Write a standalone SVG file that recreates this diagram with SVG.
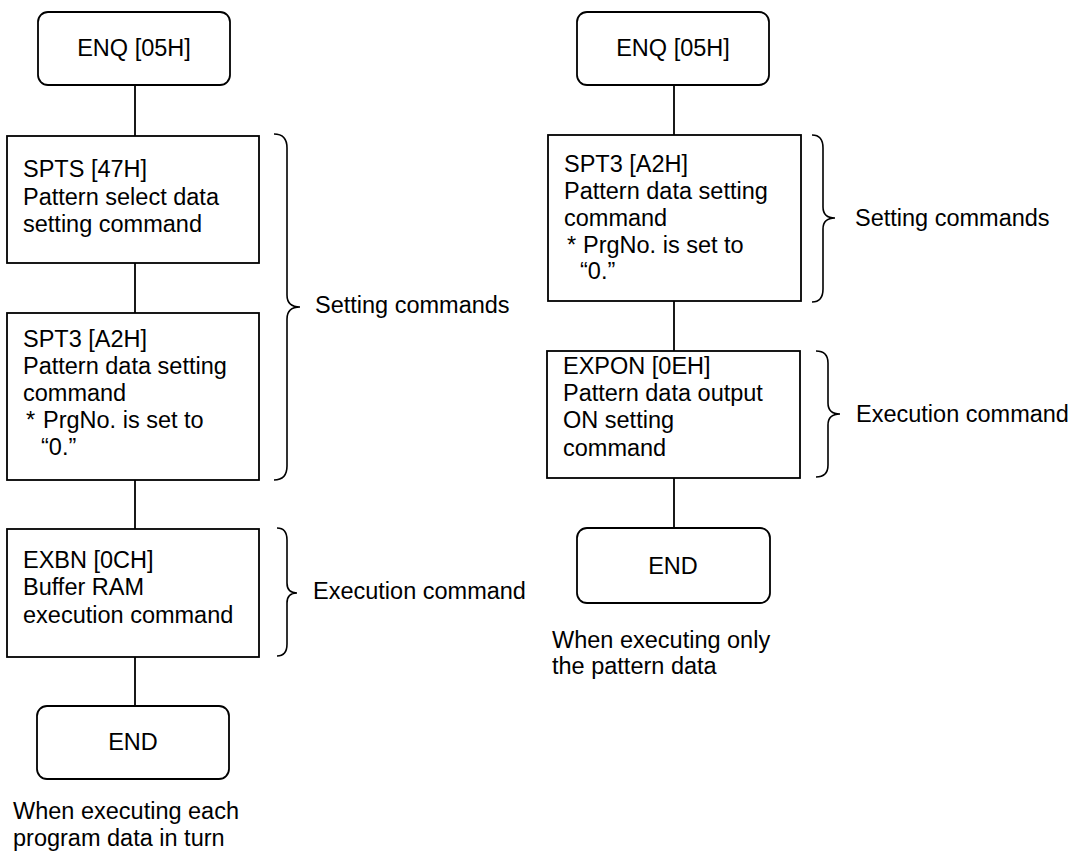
<svg xmlns="http://www.w3.org/2000/svg" width="1082" height="852" viewBox="0 0 1082 852">
<style>
  .box { fill: #fff; stroke: #000; stroke-width: 1.8; }
  .ln { fill: none; stroke: #000; stroke-width: 1.8; }
  .br { fill: none; stroke: #000; stroke-width: 1.6; }
  text { font-family: "Liberation Sans", Arial, sans-serif; font-size: 23.5px; fill: #000; }
  .c { text-anchor: middle; }
</style>
<rect width="1082" height="852" fill="#fff"/>
<g id="connectors">
  <line class="ln" x1="135" y1="85" x2="135" y2="136"/>
  <line class="ln" x1="135" y1="263" x2="135" y2="313"/>
  <line class="ln" x1="135" y1="480" x2="135" y2="529"/>
  <line class="ln" x1="135" y1="657" x2="135" y2="706"/>
  <line class="ln" x1="674" y1="85" x2="674" y2="135"/>
  <line class="ln" x1="674" y1="301" x2="674" y2="351"/>
  <line class="ln" x1="674" y1="478" x2="674" y2="528"/>
</g>
<g id="left-enq">
  <rect class="box" x="38" y="12" width="192" height="73" rx="10"/>
  <text class="c" x="134" y="56">ENQ [05H]</text>
</g>
<g id="left-spts">
  <rect class="box" x="7" y="136" width="252" height="127"/>
  <text x="23" y="177">SPTS [47H]</text>
  <text x="23" y="205">Pattern select data</text>
  <text x="23" y="232">setting command</text>
</g>
<g id="left-spt3">
  <rect class="box" x="7" y="313" width="252" height="167"/>
  <text x="23" y="347">SPT3 [A2H]</text>
  <text x="23" y="374">Pattern data setting</text>
  <text x="23" y="401">command</text>
  <text x="26" y="428">*</text>
  <text x="43" y="428">PrgNo. is set to</text>
  <text x="41" y="455">“0.”</text>
</g>
<g id="left-exbn">
  <rect class="box" x="7" y="529" width="252" height="128"/>
  <text x="23" y="568">EXBN [0CH]</text>
  <text x="23" y="595">Buffer RAM</text>
  <text x="23" y="623">execution command</text>
</g>
<g id="left-end">
  <rect class="box" x="37" y="706" width="192" height="73" rx="10"/>
  <text class="c" x="133" y="750">END</text>
</g>
<g id="left-braces">
  <path class="br" d="M274,134 Q287,134 287,148 L287,295 Q287,307 300,307 Q287,307 287,319 L287,466 Q287,480 274,480"/>
  <text x="315" y="313">Setting commands</text>
  <path class="br" d="M277,528 Q287,528 287,540 L287,583 Q287,593 297,593 Q287,593 287,603 L287,644 Q287,656 277,656"/>
  <text x="313" y="599">Execution command</text>
</g>
<g id="left-caption">
  <text x="13" y="819">When executing each</text>
  <text x="13" y="846">program data in turn</text>
</g>
<g id="right-enq">
  <rect class="box" x="577" y="12" width="192" height="73" rx="10"/>
  <text class="c" x="673" y="56">ENQ [05H]</text>
</g>
<g id="right-spt3">
  <rect class="box" x="548" y="135" width="253" height="166"/>
  <text x="564" y="172">SPT3 [A2H]</text>
  <text x="564" y="199">Pattern data setting</text>
  <text x="564" y="226">command</text>
  <text x="567" y="253">*</text>
  <text x="583" y="253">PrgNo. is set to</text>
  <text x="580" y="279">“0.”</text>
</g>
<g id="right-expon">
  <rect class="box" x="547" y="351" width="253" height="127"/>
  <text x="563" y="374">EXPON [0EH]</text>
  <text x="563" y="401">Pattern data output</text>
  <text x="563" y="428">ON setting</text>
  <text x="563" y="456">command</text>
</g>
<g id="right-end">
  <rect class="box" x="577" y="528" width="193" height="75" rx="10"/>
  <text class="c" x="673" y="574">END</text>
</g>
<g id="right-braces">
  <path class="br" d="M812,135 Q823,135 823,148 L823,207 Q823,218 835,218 Q823,218 823,229 L823,289 Q823,302 812,302"/>
  <text x="855" y="226">Setting commands</text>
  <path class="br" d="M816,351 Q828,351 828,363 L828,403 Q828,414 840,414 Q828,414 828,425 L828,465 Q828,477 816,477"/>
  <text x="856" y="422">Execution command</text>
</g>
<g id="right-caption">
  <text x="552" y="648">When executing only</text>
  <text x="552" y="674">the pattern data</text>
</g>
</svg>
